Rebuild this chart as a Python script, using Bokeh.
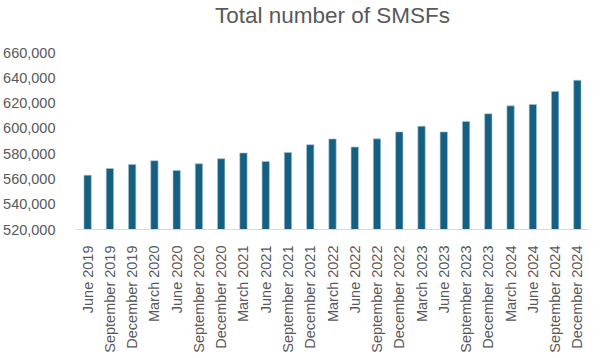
from bokeh.plotting import figure
from bokeh.models import ColumnDataSource, NumeralTickFormatter, FixedTicker, Range1d, Title
from bokeh.embed import file_html
from bokeh.resources import INLINE
import math

quarters = ["June 2019", "September 2019", "December 2019", "March 2020", "June 2020",
            "September 2020", "December 2020", "March 2021", "June 2021", "September 2021",
            "December 2021", "March 2022", "June 2022", "September 2022", "December 2022",
            "March 2023", "June 2023", "September 2023", "December 2023", "March 2024",
            "June 2024", "September 2024", "December 2024"]
smsfs = [563000, 568300, 571500, 574400, 566700, 572000, 576000, 580500, 573800, 581000,
         587100, 591600, 585200, 591700, 597200, 601700, 597200, 605400, 611500, 617800,
         618900, 629200, 638000]
y_ticks = [520000, 540000, 560000, 580000, 600000, 620000, 640000, 660000]

FONT = "Liberation Sans"
GREY = "#595959"

src = ColumnDataSource(dict(q=quarters, v=smsfs))

p = figure(x_range=quarters, y_range=Range1d(y_ticks[0], y_ticks[-1]),
           frame_width=512, frame_height=177, output_backend="svg", toolbar_location=None,
           min_border_left=71, min_border_right=1, min_border_top=0, min_border_bottom=116,
           title="Total number of SMSFs")
p.title.align = "center"
p.title.text_font = FONT
p.title.text_font_size = "22.5px"
p.title.text_font_style = "normal"
p.title.text_color = GREY
p.title.text_line_height = 0.9
p.title.standoff = 0

# invisible spacer between the title and the plot frame
p.add_layout(Title(text=" ", text_font_size="10px", standoff=12), "above")

p.vbar(x="q", top="v", bottom=y_ticks[0], width=0.33, source=src,
       fill_color="#156082", line_color="#a9c4d4", line_width=0.6)

p.outline_line_color = None
p.xgrid.grid_line_color = None
p.ygrid.grid_line_color = None

p.yaxis.ticker = FixedTicker(ticks=y_ticks)
p.yaxis.formatter = NumeralTickFormatter(format="0,0")
p.yaxis.axis_line_color = None
p.yaxis.major_tick_line_color = None
p.yaxis.minor_tick_line_color = None
p.yaxis.major_label_standoff = 15
p.yaxis.major_label_text_font = FONT
p.yaxis.major_label_text_font_size = "14.5px"
p.yaxis.major_label_text_color = GREY

p.xaxis.axis_line_color = "#d9d9d9"
p.xaxis.axis_line_width = 1
p.xaxis.major_tick_line_color = None
p.xaxis.minor_tick_line_color = None
p.xaxis.major_label_orientation = math.pi / 2
p.xaxis.major_label_standoff = 10
p.xaxis.major_label_text_font = FONT
p.xaxis.major_label_text_font_size = "14.5px"
p.xaxis.major_label_text_color = GREY

open("out.html", "w").write(file_html(p, INLINE))
